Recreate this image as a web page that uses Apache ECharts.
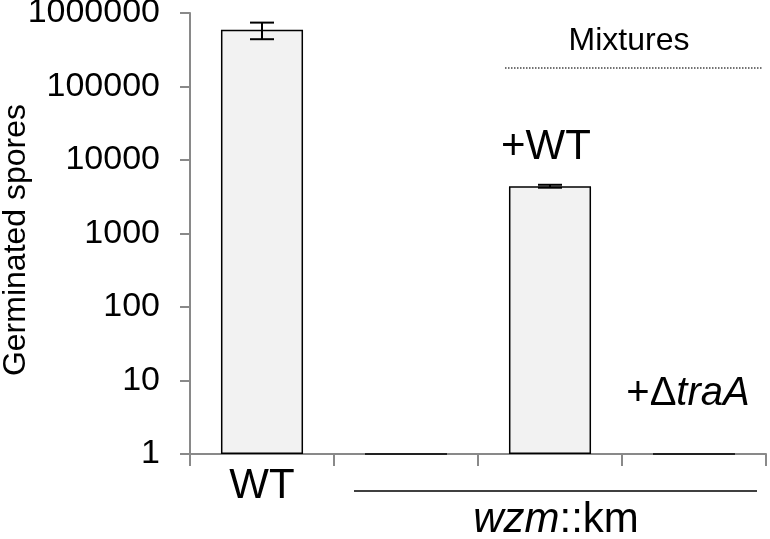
<!DOCTYPE html>
<html>
<head>
<meta charset="utf-8">
<script src="https://cdn.jsdelivr.net/npm/echarts@6/dist/echarts.min.js"></script>
<style>
  html, body { margin: 0; padding: 0; background: #ffffff; }
  #chart { width: 770px; height: 539px; }
</style>
</head>
<body>
<div id="chart"></div>
<script>
// ---- data ----
const categories = ['WT', 'wzm::km', '+WT', '+ΔtraA'];
const germinatedSpores = [590000, 1, 4400, 1];
const errorSD = [150000, 0, 200, 0];
const yTickLabels = ['1', '10', '100', '1000', '10000', '100000', '1000000'];
const yAxisTitle = 'Germinated spores';
const groupTitle = 'Mixtures';

const FONT = '"Liberation Sans", Arial, Helvetica, sans-serif';
const chart = echarts.init(document.getElementById('chart'), null, { renderer: 'canvas' });

const errorData = germinatedSpores.map((v, i) => [i, v - errorSD[i], v + errorSD[i], errorSD[i]]);

const option = {
  animation: false,
  backgroundColor: '#ffffff',
  grid: { left: 190, right: 4, top: 13, bottom: 85, containLabel: false, outerBoundsMode: 'none' },
  xAxis: {
    type: 'category',
    data: categories,
    axisLine: { show: true, lineStyle: { color: '#898989', width: 2 } },
    axisTick: { show: true, length: 12, lineStyle: { color: '#898989', width: 2 } },
    axisLabel: {
      margin: 11,
      fontFamily: FONT, fontSize: 42, color: '#000',
      formatter: (v, i) => (i === 0 ? v : '')
    },
    splitLine: { show: false }
  },
  yAxis: {
    type: 'log',
    logBase: 10,
    min: 1,
    max: 1000000,
    axisLine: { show: true, lineStyle: { color: '#898989', width: 2 } },
    axisTick: { show: true, length: 10, lineStyle: { color: '#898989', width: 2 } },
    axisLabel: {
      margin: 30,
      fontFamily: FONT, fontSize: 34, color: '#000',
      formatter: (v) => yTickLabels[Math.round(Math.log10(v))]
    },
    splitLine: { show: false }
  },
  series: [
    {
      type: 'bar',
      data: germinatedSpores,
      barWidth: '57%',
      itemStyle: { color: '#f2f2f2', borderColor: '#000', borderWidth: 1.5 },
      z: 2
    },
    {
      type: 'custom',
      data: errorData,
      z: 5,
      renderItem: function (params, api) {
        const sd = api.value(3);
        if (!sd) return null;
        const idx = api.value(0);
        const lo = api.coord([idx, api.value(1)]);
        const hi = api.coord([idx, api.value(2)]);
        const half = 12;
        const style = { stroke: '#000', lineWidth: 2 };
        return {
          type: 'group',
          children: [
            { type: 'line', shape: { x1: lo[0], y1: lo[1], x2: hi[0], y2: hi[1] }, style },
            { type: 'line', shape: { x1: hi[0] - half, y1: hi[1], x2: hi[0] + half, y2: hi[1] }, style },
            { type: 'line', shape: { x1: lo[0] - half, y1: lo[1], x2: lo[0] + half, y2: lo[1] }, style }
          ]
        };
      }
    }
  ],
  graphic: [
    { type: 'text', x: 16, y: 240, rotation: Math.PI / 2,
      style: { text: yAxisTitle, x: 0, y: 0, align: 'center', verticalAlign: 'middle', font: '32px ' + FONT, fill: '#000' } },
    { type: 'text', style: { text: groupTitle, x: 629, y: 41, align: 'center', verticalAlign: 'middle', font: '32px ' + FONT, fill: '#000' } },
    { type: 'line', shape: { x1: 505, y1: 68, x2: 763, y2: 68 }, style: { stroke: '#444', lineWidth: 1.5, lineDash: [1.5, 1.5] } },
    { type: 'text', style: { text: '+WT', x: 546, y: 147, align: 'center', verticalAlign: 'middle', font: '42px ' + FONT, fill: '#000' } },
    { type: 'text', style: {
        text: '{n|+Δ}{i|traA}', x: 688, y: 394, align: 'center', verticalAlign: 'middle',
        rich: {
          n: { fontFamily: FONT, fontSize: 40, fill: '#000', color: '#000' },
          i: { fontFamily: FONT, fontSize: 40, fontStyle: 'italic', fill: '#000', color: '#000' }
        }
    } },
    { type: 'line', shape: { x1: 354, y1: 491, x2: 757, y2: 491 }, style: { stroke: '#000', lineWidth: 1.5 } },
    { type: 'text', style: {
        text: '{i|wzm}{n|::km}', x: 556, y: 520, align: 'center', verticalAlign: 'middle',
        rich: {
          n: { fontFamily: FONT, fontSize: 42, fill: '#000', color: '#000' },
          i: { fontFamily: FONT, fontSize: 42, fontStyle: 'italic', fill: '#000', color: '#000' }
        }
    } }
  ]
};
chart.setOption(option);
</script>
</body>
</html>
